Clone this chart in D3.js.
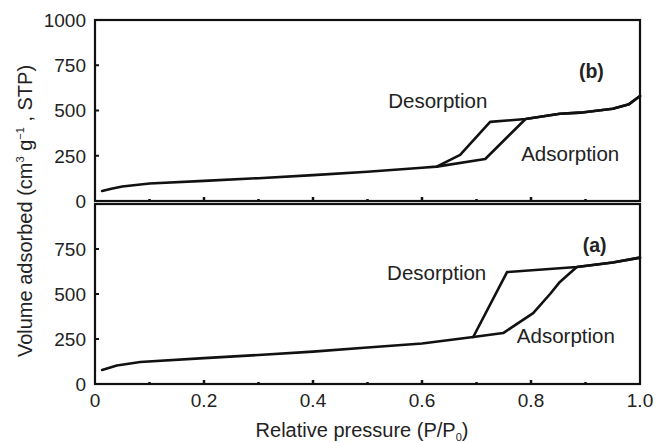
<!DOCTYPE html>
<html>
<head>
<meta charset="utf-8">
<script src="https://cdn.jsdelivr.net/npm/d3@7"></script>
<style>
  body { margin: 0; background: #fff; }
  svg text { font-family: "Liberation Sans", Arial, sans-serif; fill: #222; }
</style>
</head>
<body>
<svg id="chart" width="655" height="443"></svg>
<script>
// isotherm (b), top panel
var adsB = [[0.013,55],[0.03,68],[0.05,80],[0.1,97],[0.2,111],[0.3,126],[0.4,143],[0.5,162],[0.6,184],
            [0.627,190],[0.716,232],[0.79,453],[0.853,482],[0.89,488],[0.95,510],[0.98,535],[1.0,580]];
var desB = [[1.0,580],[0.98,535],[0.95,510],[0.89,488],[0.853,482],[0.79,453],[0.725,437],[0.67,255],[0.627,190]];

// isotherm (a), bottom panel
var adsA = [[0.013,78],[0.04,103],[0.083,122],[0.2,144],[0.3,161],[0.4,180],[0.5,203],[0.6,225],
            [0.694,261],[0.749,283],[0.804,394],[0.835,500],[0.853,567],[0.884,650],[0.95,675],[1.0,702]];
var desA = [[1.0,702],[0.95,675],[0.884,650],[0.756,622],[0.694,261]];

var xTicks = [0, 0.2, 0.4, 0.6, 0.8, 1.0];
var xMinor = [0.1, 0.3, 0.5, 0.7, 0.9];
var yTicksTop = [0, 250, 500, 750, 1000];
var yTicksBottom = [0, 250, 500, 750];

var svg = d3.select("#chart");
var left = 95, right = 640;

var x = d3.scaleLinear().domain([0, 1]).range([left, right]);
var yTop = d3.scaleLinear().domain([0, 1000]).range([201, 20]);
var yBot = d3.scaleLinear().domain([0, 1000]).range([384, 204]);

var panels = [
    { y: yTop, ticks: yTicksTop, ads: adsB, des: desB, tag: "(b)",
      tagPos: [0.888, 680], desPos: [0.538, 514], adsPos: [0.782, 221] },
    { y: yBot, ticks: yTicksBottom, ads: adsA, des: desA, tag: "(a)",
      tagPos: [0.895, 733], desPos: [0.536, 578], adsPos: [0.774, 228] }
];

panels.forEach(function (p) {
    var y = p.y;
    var g = svg.append("g");

    // frame
    g.append("rect")
        .attr("x", x(0)).attr("y", y(1000))
        .attr("width", x(1) - x(0)).attr("height", y(0) - y(1000))
        .attr("fill", "none").attr("stroke", "#111").attr("stroke-width", 2.2);

    // inward x ticks on the panel bottom
    g.selectAll("line.xmaj").data(xTicks.slice(1, -1)).enter().append("line")
        .attr("x1", function (d) { return x(d); }).attr("x2", function (d) { return x(d); })
        .attr("y1", y(0)).attr("y2", y(0) - 4)
        .attr("stroke", "#111").attr("stroke-width", 2.5);
    g.selectAll("line.xmin").data(xMinor).enter().append("line")
        .attr("x1", function (d) { return x(d); }).attr("x2", function (d) { return x(d); })
        .attr("y1", y(0)).attr("y2", y(0) - 2)
        .attr("stroke", "#111").attr("stroke-width", 2.5);

    // inward y ticks + labels
    g.selectAll("line.ytick").data([250, 500, 750]).enter().append("line")
        .attr("x1", x(0)).attr("x2", x(0) + 4)
        .attr("y1", function (d) { return y(d); }).attr("y2", function (d) { return y(d); })
        .attr("stroke", "#111").attr("stroke-width", 2);
    g.selectAll("text.ylab").data(p.ticks).enter().append("text")
        .attr("x", 86).attr("y", function (d) { return y(d); })
        .attr("dy", "0.36em").attr("text-anchor", "end")
        .style("font-size", "19px")
        .text(function (d) { return d; });

    var line = d3.line()
        .x(function (d) { return x(d[0]); })
        .y(function (d) { return y(d[1]); });

    g.append("path").datum(p.ads).attr("d", line)
        .attr("fill", "none").attr("stroke", "#111").attr("stroke-width", 2.6)
        .attr("stroke-linejoin", "round").attr("stroke-linecap", "round");
    g.append("path").datum(p.des).attr("d", line)
        .attr("fill", "none").attr("stroke", "#111").attr("stroke-width", 2.6)
        .attr("stroke-linejoin", "round").attr("stroke-linecap", "round");

    g.append("text").attr("x", x(p.desPos[0])).attr("y", y(p.desPos[1]))
        .style("font-size", "20.5px").text("Desorption");
    g.append("text").attr("x", x(p.adsPos[0])).attr("y", y(p.adsPos[1]))
        .style("font-size", "20.5px").text("Adsorption");
    g.append("text").attr("x", x(p.tagPos[0])).attr("y", y(p.tagPos[1]))
        .style("font-size", "19.5px").style("font-weight", "bold").text(p.tag);
});

// shared x labels
svg.selectAll("text.xlab").data(xTicks).enter().append("text")
    .attr("x", function (d) { return x(d); }).attr("y", 407)
    .attr("text-anchor", "middle").style("font-size", "19px")
    .text(function (d) { return d === 0 ? "0" : d.toFixed(1); });

var xl = svg.append("text").attr("x", 362).attr("y", 437)
    .attr("text-anchor", "middle").style("font-size", "20px");
xl.append("tspan").text("Relative pressure (P/P");
xl.append("tspan").attr("dy", 4).style("font-size", "11px").text("0");
xl.append("tspan").attr("dy", -4).text(")");

var yl = svg.append("text")
    .attr("transform", "translate(32,211) rotate(-90)")
    .attr("text-anchor", "middle").style("font-size", "20px");
yl.append("tspan").text("Volume adsorbed (cm");
yl.append("tspan").attr("dy", -8).style("font-size", "11px").text("3");
yl.append("tspan").attr("dy", 8).text(" g");
yl.append("tspan").attr("dy", -8).style("font-size", "11px").text("\u22121");
yl.append("tspan").attr("dy", 8).text(" , STP)");
</script>
</body>
</html>
